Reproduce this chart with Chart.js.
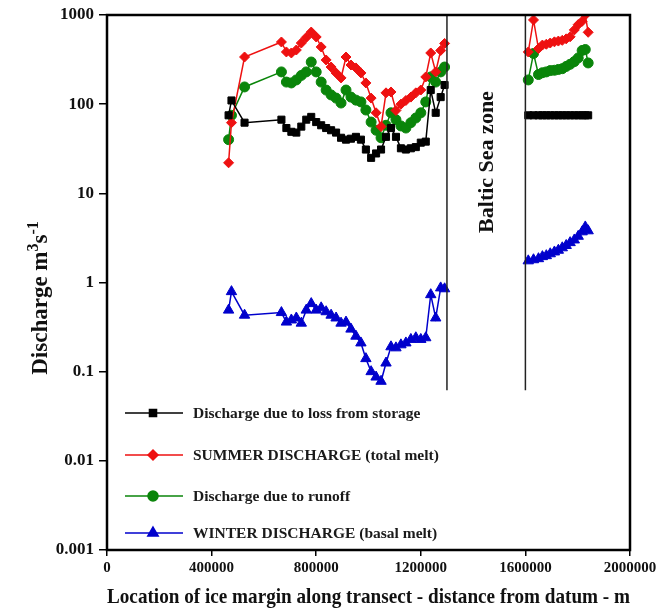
<!DOCTYPE html>
<html>
<head>
<meta charset="utf-8">
<script src="https://cdn.jsdelivr.net/npm/chart.js@4.4.1/dist/chart.umd.min.js"></script>
<style>
  html, body { margin: 0; background: #fff; }
  #wrap { width: 656px; height: 615px; }
</style>
</head>
<body>
<div id="wrap"><canvas id="discharge" width="656" height="615"></canvas></div>
<script>
// ice margin positions (m) west and east of the Baltic Sea zone
const westX = [465000, 476000, 526000, 667000, 686000, 705000, 724000, 743000, 762000, 781000,
  800000, 819000, 838000, 857000, 876000, 895000, 914000, 933000, 952000, 971000,
  990000, 1010000, 1029000, 1048000, 1067000, 1086000, 1105000, 1124000, 1143000, 1162000,
  1181000, 1200000, 1219000, 1238000, 1257000, 1276000, 1291000];
const eastX = [1611000, 1631000, 1650000, 1665000, 1680000, 1695000, 1711000, 1726000,
  1741000, 1756000, 1771000, 1787000, 1802000, 1817000, 1829000, 1840000];

const storageWest = [75, 110, 62, 67, 54, 49, 48, 56, 67, 72, 63, 58, 54, 51, 48, 42, 40, 41, 43, 40,
  31, 25, 28, 31, 43, 54, 43, 32, 31, 32, 33, 37, 38, 144, 80, 120, 164];
const storageEast = [75, 75, 75, 75, 75, 75, 75, 75, 75, 75, 75, 75, 75, 75, 75, 75];

const summerWest = [22, 62, 338, 498, 385, 375, 405, 485, 560, 644, 567, 438, 313, 261, 224, 197, 338, 275, 255, 224,
  173, 117, 80, 56, 134, 137, 85, 100, 110, 120, 134, 144, 202, 375, 230, 400, 480];
const summerEast = [385, 880, 420, 460, 470, 485, 500, 510, 520, 540, 570, 680, 780, 850, 1000, 640];

const runoffWest = [40, 75, 156, 230, 177, 173, 187, 210, 230, 297, 230, 177, 144, 127, 117, 103, 144, 120, 111, 106,
  86, 63, 51, 42, 58, 80, 67, 57, 54, 62, 70, 80, 106, 202, 177, 230, 261];
const runoffEast = [187, 370, 215, 225, 230, 238, 240, 245, 250, 265, 280, 300, 330, 400, 410, 290];

const winterWest = [0.49, 0.79, 0.43, 0.46, 0.36, 0.38, 0.40, 0.35, 0.49, 0.58, 0.49, 0.52, 0.47, 0.43, 0.40, 0.35, 0.36, 0.30, 0.25, 0.21,
  0.14, 0.10, 0.087, 0.078, 0.125, 0.19, 0.185, 0.20, 0.21, 0.23, 0.24, 0.23, 0.24, 0.73, 0.40, 0.87, 0.85];
const winterEast = [1.75, 1.8, 1.85, 1.95, 2.0, 2.1, 2.2, 2.3, 2.45, 2.6, 2.8, 3.0, 3.3, 3.7, 4.2, 3.8];

const yTicks = [0.001, 0.01, 0.1, 1, 10, 100, 1000];
const xTicks = [0, 400000, 800000, 1200000, 1600000, 2000000];
const balticStart = 1300000, balticEnd = 1600000, balticLineBottom = 0.062;
const gapX = 1450000;

// y title pieces: [text, superscript?]
const yTitle = [["Discharge m", false], ["3", true], ["s", false], ["-1", true]];

const serif = "'Liberation Serif', 'Times New Roman', serif";

function series(west, east) {
  const pts = westX.map((x, i) => ({ x: x, y: west[i] }));
  pts.push({ x: gapX, y: null });
  return pts.concat(eastX.map((x, i) => ({ x: x, y: east[i] })));
}

function ds(label, color, style, radius, west, east) {
  return {
    label: label,
    data: series(west, east),
    borderColor: color,
    backgroundColor: color,
    pointBackgroundColor: color,
    pointBorderColor: color,
    pointStyle: style,
    pointRadius: radius,
    pointBorderWidth: 1,
    borderWidth: 1.5,
    spanGaps: false,
    tension: 0
  };
}

const datasets = [
  ds("Discharge due to loss from storage", "#000000", "rect", 5, storageWest, storageEast),
  ds("SUMMER DISCHARGE (total melt)", "#ee1111", "rectRot", 5, summerWest, summerEast),
  ds("Discharge due to runoff", "#0a850a", "circle", 5, runoffWest, runoffEast),
  ds("WINTER DISCHARGE (basal melt)", "#0000cc", "triangle", 6, winterWest, winterEast)
];

const decorations = {
  id: "decorations",
  afterDatasetsDraw(chart) {
    const ctx = chart.ctx, a = chart.chartArea;
    const xs = chart.scales.x, ys = chart.scales.y;
    ctx.save();
    // Baltic Sea zone boundaries
    ctx.strokeStyle = "#222";
    ctx.lineWidth = 1.5;
    [balticStart, balticEnd].forEach(v => {
      const px = xs.getPixelForValue(v);
      ctx.beginPath();
      ctx.moveTo(px, a.top);
      ctx.lineTo(px, ys.getPixelForValue(balticLineBottom));
      ctx.stroke();
    });
    const cx = (xs.getPixelForValue(balticStart) + xs.getPixelForValue(balticEnd)) / 2;
    ctx.translate(cx + 1, a.top + 147);
    ctx.rotate(-Math.PI / 2);
    ctx.fillStyle = "#111";
    ctx.font = "bold 22px " + serif;
    ctx.textAlign = "center";
    ctx.textBaseline = "middle";
    ctx.fillText("Baltic Sea zone", 0, 0);
    ctx.restore();

    // legend inside the plot
    ctx.save();
    const rows = [398, 440, 481, 518];
    chart.data.datasets.forEach((d, i) => {
      const y = a.top + rows[i];
      const x0 = a.left + 18;
      ctx.strokeStyle = d.borderColor;
      ctx.lineWidth = 1.5;
      ctx.beginPath();
      ctx.moveTo(x0, y);
      ctx.lineTo(x0 + 58, y);
      ctx.stroke();
      ctx.fillStyle = d.borderColor;
      Chart.helpers.drawPoint(ctx, { pointStyle: d.pointStyle, radius: d.pointRadius, borderWidth: 1, rotation: 0 }, x0 + 28, y);
      ctx.fillStyle = "#1a1a1a";
      ctx.font = "bold 15.5px " + serif;
      ctx.textAlign = "left";
      ctx.textBaseline = "middle";
      ctx.fillText(d.label, a.left + 86, y + 1);
    });
    ctx.restore();

    // y axis title with superscripts
    ctx.save();
    const big = "bold 23px " + serif, small = "bold 16px " + serif;
    let total = 0;
    yTitle.forEach(p => { ctx.font = p[1] ? small : big; total += ctx.measureText(p[0]).width; });
    ctx.translate(41, 298);
    ctx.rotate(-Math.PI / 2);
    ctx.fillStyle = "#111";
    ctx.textAlign = "left";
    ctx.textBaseline = "alphabetic";
    let px = -total / 2;
    yTitle.forEach(p => {
      ctx.font = p[1] ? small : big;
      ctx.fillText(p[0], px, p[1] ? -3 : 6);
      px += ctx.measureText(p[0]).width;
    });
    ctx.restore();

    // plot frame
    ctx.save();
    ctx.strokeStyle = "#000";
    ctx.lineWidth = 2.5;
    ctx.strokeRect(a.left, a.top, a.right - a.left, a.bottom - a.top);
    ctx.restore();
  }
};

new Chart(document.getElementById("discharge"), {
  type: "line",
  data: { datasets: datasets },
  options: {
    responsive: false,
    animation: false,
    layout: { padding: { top: 15, right: 26, left: 0, bottom: 0 } },
    plugins: { legend: { display: false }, tooltip: { enabled: false } },
    scales: {
      x: {
        type: "linear",
        min: 0,
        max: 2000000,
        afterBuildTicks: s => { s.ticks = xTicks.map(v => ({ value: v })); },
        afterFit: s => { s.height = 65; s.paddingRight = 0; s.paddingLeft = 0; },
        ticks: {
          color: "#111",
          font: { family: serif, size: 15, weight: "bold" },
          padding: 3,
          maxRotation: 0,
          callback: v => String(v)
        },
        grid: { drawOnChartArea: false, drawTicks: true, tickLength: 6, color: "#000", lineWidth: 1.5 },
        border: { display: false },
        title: {
          display: true,
          text: "Location of ice margin along transect - distance from datum - m",
          color: "#111",
          font: { family: serif, size: 21.5, weight: "bold" },
          padding: { top: 0, bottom: 5 }
        }
      },
      y: {
        type: "logarithmic",
        min: 0.001,
        max: 1000,
        afterBuildTicks: s => { s.ticks = yTicks.map(v => ({ value: v })); },
        afterFit: s => { s.width = 107; s.paddingTop = 0; s.paddingBottom = 0; },
        ticks: {
          color: "#111",
          font: { family: serif, size: 17, weight: "bold" },
          padding: 5,
          callback: v => String(v)
        },
        grid: { drawOnChartArea: false, drawTicks: true, tickLength: 8, color: "#000", lineWidth: 1.5 },
        border: { display: false },
        title: { display: false }
      }
    }
  },
  plugins: [decorations]
});
</script>
</body>
</html>
